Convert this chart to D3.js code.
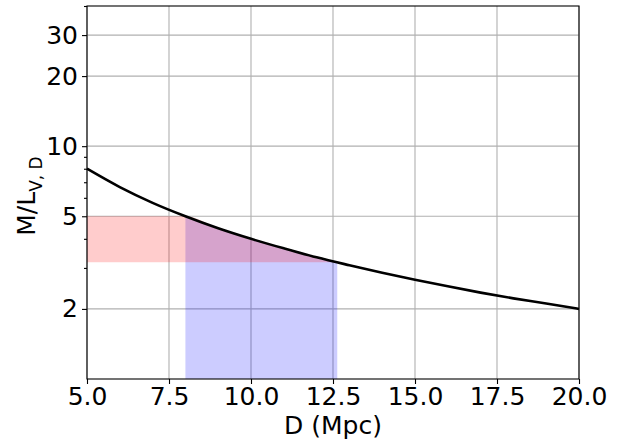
<!DOCTYPE html>
<html>
<head>
<meta charset="utf-8">
<script src="https://cdn.jsdelivr.net/npm/d3@7"></script>
<style>
  body { margin: 0; background: #fff; }
  text { font-family: "DejaVu Sans", sans-serif; fill: #000; }
</style>
</head>
<body>
<div id="app"></div>
<script>
// M/L_V,D against distance
var dist = [5, 6, 7, 8, 9, 10, 11, 12, 13, 14, 15, 16, 17, 18, 19, 20];
var mlv = [8.0, 6.67, 5.71, 5.0, 4.44, 4.0, 3.64, 3.33, 3.08, 2.86, 2.67, 2.5, 2.35, 2.22, 2.11, 2.0];

// red band: M/L range, up to the curve
var redD = [5, 8, 9, 10, 11, 12, 12.63];
var redTop = [5, 5, 4.44, 4.0, 3.64, 3.33, 3.17];
var redLow = 3.17;

// blue band: distance range, from bottom up to the curve
var blueD = [8, 9, 10, 11, 12, 12.63];
var blueTop = [5, 4.44, 4.0, 3.64, 3.33, 3.17];
var blueLow = 1.0;

var xTicks = [5, 7.5, 10, 12.5, 15, 17.5, 20];
var yTicks = [2, 5, 10, 20, 30];
var yMinor = [3, 4, 6, 7, 8, 9, 40];

var width = 622, height = 441;
var mLeft = 87, mRight = 579, mTop = 6, mBottom = 379;

var svg = d3.select('#app')
    .append('svg')
    .attr('width', width)
    .attr('height', height);

var x = d3.scaleLinear().domain([5, 20]).range([mLeft, mRight]);
var y = d3.scaleLog().domain([1, 40]).range([mBottom, mTop]);

// grid
var grid = svg.append('g');
grid.selectAll('line.gx')
    .data(xTicks)
    .enter()
    .append('line')
    .attr('x1', function (d) { return x(d) })
    .attr('x2', function (d) { return x(d) })
    .attr('y1', mTop)
    .attr('y2', mBottom);
grid.selectAll('line.gy')
    .data(yTicks)
    .enter()
    .append('line')
    .attr('x1', mLeft)
    .attr('x2', mRight)
    .attr('y1', function (d) { return y(d) })
    .attr('y2', function (d) { return y(d) });
grid.selectAll('line')
    .attr('stroke', '#b0b0b0')
    .attr('stroke-width', 1.1);

// bands
var blueArea = d3.area()
    .x(function (d, i) { return x(blueD[i]) })
    .y0(function () { return y(blueLow) })
    .y1(function (d) { return y(d) })
    .curve(d3.curveMonotoneX);
svg.append('path')
    .attr('d', blueArea(blueTop))
    .attr('fill', 'blue')
    .attr('fill-opacity', 0.2);

var redArea = d3.area()
    .x(function (d, i) { return x(redD[i]) })
    .y0(function () { return y(redLow) })
    .y1(function (d) { return y(d) })
    .curve(d3.curveMonotoneX);
svg.append('path')
    .attr('d', redArea(redTop))
    .attr('fill', 'red')
    .attr('fill-opacity', 0.2);

// curve
var line = d3.line()
    .x(function (d, i) { return x(dist[i]) })
    .y(function (d) { return y(d) })
    .curve(d3.curveMonotoneX);
svg.append('path')
    .attr('d', line(mlv))
    .attr('fill', 'none')
    .attr('stroke', '#000')
    .attr('stroke-width', 2.6);

// axes
var xAxis = d3.axisBottom(x)
    .tickValues(xTicks)
    .tickFormat(d3.format('.1f'))
    .tickSize(5)
    .tickPadding(3);
svg.append('g')
    .attr('transform', 'translate(0,' + mBottom + ')')
    .call(xAxis);

var yAxis = d3.axisLeft(y)
    .tickValues(yTicks)
    .tickFormat(d3.format('d'))
    .tickSize(5)
    .tickPadding(4);
svg.append('g')
    .attr('transform', 'translate(' + mLeft + ',0)')
    .call(yAxis);

var yAxisMinor = d3.axisLeft(y)
    .tickValues(yMinor)
    .tickFormat('')
    .tickSize(3);
svg.append('g')
    .attr('transform', 'translate(' + mLeft + ',0)')
    .call(yAxisMinor);

svg.selectAll('.tick text')
    .style('font-family', '"DejaVu Sans", sans-serif')
    .style('font-size', '25px')
    .attr('fill', '#000');
svg.selectAll('.tick line').attr('stroke', '#000').attr('stroke-width', 1.1);
svg.selectAll('.domain').remove();

// frame
svg.append('rect')
    .attr('x', mLeft)
    .attr('y', mTop)
    .attr('width', mRight - mLeft)
    .attr('height', mBottom - mTop)
    .attr('fill', 'none')
    .attr('stroke', '#000')
    .attr('stroke-width', 1.1);

// labels
svg.append('text')
    .attr('x', (mLeft + mRight) / 2)
    .attr('y', 434)
    .attr('text-anchor', 'middle')
    .style('font-size', '25px')
    .text('D (Mpc)');

var ylab = svg.append('text')
    .attr('transform', 'translate(35,196) rotate(-90)')
    .attr('text-anchor', 'middle')
    .style('font-size', '25px');
ylab.append('tspan').text('M/L');
ylab.append('tspan')
    .attr('dy', 7)
    .style('font-size', '17px')
    .text('V, D');
</script>
</body>
</html>
